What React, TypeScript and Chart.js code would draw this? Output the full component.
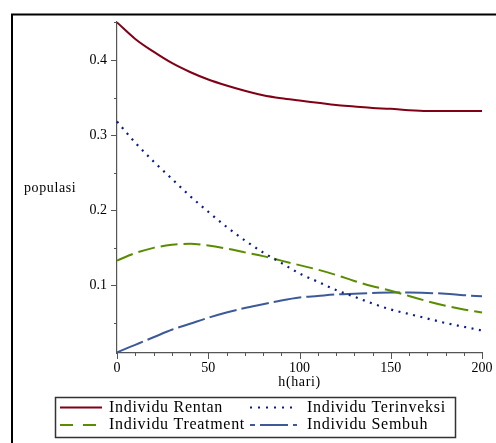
import React, { useEffect, useRef } from "react";
import { Chart, registerables } from "chart.js";

Chart.register(...registerables);

// ---- data ----
const hari = [0, 10, 20, 30, 40, 50, 60, 70, 80, 90, 100, 110, 120, 130, 140, 150, 160, 170, 180, 190, 200];
const rentan = [0.45, 0.428, 0.411, 0.396, 0.384, 0.374, 0.366, 0.359, 0.353, 0.349, 0.346, 0.343, 0.340, 0.338, 0.336, 0.335, 0.333, 0.332, 0.332, 0.332, 0.332];
const terinveksi = [0.318, 0.290, 0.265, 0.242, 0.219, 0.198, 0.178, 0.160, 0.144, 0.130, 0.116, 0.105, 0.094, 0.085, 0.076, 0.068, 0.062, 0.056, 0.050, 0.045, 0.040];
const treatment = [0.133, 0.143, 0.150, 0.154, 0.1555, 0.153, 0.149, 0.144, 0.139, 0.133, 0.127, 0.121, 0.114, 0.106, 0.099, 0.093, 0.086, 0.079, 0.073, 0.068, 0.064];
const sembuh = [0.011, 0.021, 0.031, 0.041, 0.049, 0.057, 0.064, 0.070, 0.075, 0.080, 0.084, 0.086, 0.088, 0.089, 0.090, 0.0905, 0.0905, 0.090, 0.089, 0.087, 0.0855];

const seriesNames = ["Individu Rentan", "Individu Terinveksi", "Individu Treatment", "Individu Sembuh"];
const xMajorTicks = [0, 50, 100, 150, 200];
const xMinorTicks = [0, 10, 20, 30, 40, 50, 60, 70, 80, 90, 100, 110, 120, 130, 140, 150, 160, 170, 180, 190, 200];
const yMajorTicks = [0.1, 0.2, 0.3, 0.4];
const yMinorTicks = [0.05, 0.1, 0.15, 0.2, 0.25, 0.3, 0.35, 0.4, 0.45];
const xTitle = "h(hari)";
const yTitle = "populasi";

const X_MIN = 0;
const X_MAX = 200;
const Y_MIN = 0.0101;
const Y_MAX = 0.4505;

const SERIF = "'Liberation Serif', 'Times New Roman', serif";

const styles = [
  { color: "#800016", width: 2, dash: [] as number[], legendDash: [] as number[], legendOffset: 0 },
  { color: "#0a1a8a", width: 2.2, dash: [2, 5.5], legendDash: [2, 6], legendOffset: 0 },
  { color: "#5a8c00", width: 2, dash: [17, 6], legendDash: [13, 10], legendOffset: 0 },
  { color: "#3d5a98", width: 2, dash: [28, 5], legendDash: [28, 5], legendOffset: 23 },
];

const toPoints = (vals: number[]) => hari.map((t, i) => ({ x: t, y: vals[i] }));

const decorPlugin = {
  id: "decor",
  beforeDraw(chart: any) {
    const ctx = chart.ctx as CanvasRenderingContext2D;
    ctx.save();
    ctx.fillStyle = "#ffffff";
    ctx.fillRect(0, 0, chart.width, chart.height);
    ctx.strokeStyle = "#000";
    ctx.lineWidth = 2;
    ctx.beginPath();
    ctx.moveTo(12, chart.height);
    ctx.lineTo(12, 14.5);
    ctx.lineTo(chart.width, 14.5);
    ctx.stroke();
    ctx.restore();
  },
  afterDraw(chart: any) {
    const ctx = chart.ctx as CanvasRenderingContext2D;
    const xs = chart.scales.x;
    const ys = chart.scales.y;
    const ca = chart.chartArea;
    ctx.save();
    // tick marks
    ctx.strokeStyle = "#555";
    ctx.lineWidth = 1;
    ctx.beginPath();
    for (const v of xMinorTicks) {
      const px = Math.round(xs.getPixelForValue(v)) + 0.5;
      const len = xMajorTicks.includes(v) ? 6 : 3;
      ctx.moveTo(px, ca.bottom);
      ctx.lineTo(px, ca.bottom + len);
    }
    for (const v of yMinorTicks) {
      const py = Math.round(ys.getPixelForValue(v)) + 0.5;
      const major = yMajorTicks.some((m) => Math.abs(m - v) < 1e-9);
      const len = major ? 6 : 3;
      ctx.moveTo(ca.left - len, py);
      ctx.lineTo(ca.left, py);
    }
    ctx.stroke();

    // axis titles
    ctx.fillStyle = "#000";
    ctx.font = `14px ${SERIF}`;
    (ctx as any).letterSpacing = "0.6px";
    ctx.textBaseline = "middle";
    ctx.textAlign = "left";
    ctx.fillText(yTitle, 24, (ca.top + ca.bottom) / 2 + 1);
    ctx.textAlign = "center";
    ctx.fillText(xTitle, (ca.left + ca.right) / 2, 382);

    // legend
    ctx.strokeStyle = "#333";
    ctx.lineWidth = 1.5;
    ctx.strokeRect(55.5, 397.5, 400, 40);
    ctx.font = `16px ${SERIF}`;
    (ctx as any).letterSpacing = "0.7px";
    ctx.textAlign = "left";
    chart.data.datasets.forEach((ds: any, i: number) => {
      const col = i % 2;
      const row = Math.floor(i / 2);
      const sx = col ? 250 : 60;
      const ex = col ? 297 : 102;
      const tx = col ? 307 : 109;
      const ty = row ? 425 : 407.5;
      const st = styles[i];
      ctx.save();
      ctx.strokeStyle = ds.borderColor;
      ctx.lineWidth = 2;
      ctx.setLineDash(st.legendDash);
      ctx.lineDashOffset = st.legendOffset;
      ctx.beginPath();
      ctx.moveTo(sx, ty);
      ctx.lineTo(ex, ty);
      ctx.stroke();
      ctx.restore();
      ctx.fillStyle = "#000";
      ctx.fillText(ds.label, tx, ty);
    });
    ctx.restore();
  },
};

export default function App() {
  const ref = useRef<HTMLCanvasElement | null>(null);
  useEffect(() => {
    if (!ref.current) return;
    const seriesVals = [rentan, terinveksi, treatment, sembuh];
    const chart = new Chart(ref.current, {
      type: "line",
      data: {
        datasets: seriesVals.map((vals, i) => ({
          label: seriesNames[i],
          data: toPoints(vals),
          borderColor: styles[i].color,
          backgroundColor: styles[i].color,
          borderWidth: styles[i].width,
          borderDash: styles[i].dash,
          borderCapStyle: "butt",
          pointRadius: 0,
          cubicInterpolationMode: "monotone",
          fill: false,
          clip: false,
        })) as any,
      },
      options: {
        animation: false,
        responsive: false,
        devicePixelRatio: 1,
        layout: { padding: { left: 0, right: 14, top: 22, bottom: 0 } },
        plugins: {
          legend: { display: false },
          tooltip: { enabled: false },
        },
        scales: {
          x: {
            type: "linear",
            min: X_MIN,
            max: X_MAX,
            afterBuildTicks: (s: any) => {
              s.ticks = xMajorTicks.map((v) => ({ value: v }));
            },
            afterFit: (s: any) => {
              s.height = 90;
              s.paddingLeft = 0;
              s.paddingRight = 0;
            },
            grid: { display: true, drawOnChartArea: false, drawTicks: false },
            border: { display: true, color: "#555", width: 1.2 },
            ticks: {
              color: "#000",
              padding: 7,
              maxRotation: 0,
              autoSkip: false,
              font: { family: SERIF, size: 14 },
              callback: (v: any) => String(v),
            },
          },
          y: {
            type: "linear",
            min: Y_MIN,
            max: Y_MAX,
            afterBuildTicks: (s: any) => {
              s.ticks = yMajorTicks.map((v) => ({ value: v }));
            },
            afterFit: (s: any) => {
              s.width = 117;
              s.paddingTop = 0;
              s.paddingBottom = 0;
            },
            grid: { display: true, drawOnChartArea: false, drawTicks: false },
            border: { display: true, color: "#555", width: 1.2 },
            ticks: {
              color: "#000",
              padding: 10,
              autoSkip: false,
              font: { family: SERIF, size: 14 },
              callback: (v: any) => Number(v).toFixed(1),
            },
          },
        },
      },
      plugins: [decorPlugin],
    });
    return () => chart.destroy();
  }, []);
  return (
    <div style={{ position: "absolute", left: 0, top: 0, width: 496, height: 443, background: "#fff" }}>
      <canvas ref={ref} width={496} height={443} style={{ display: "block", width: 496, height: 443 }} />
    </div>
  );
}
